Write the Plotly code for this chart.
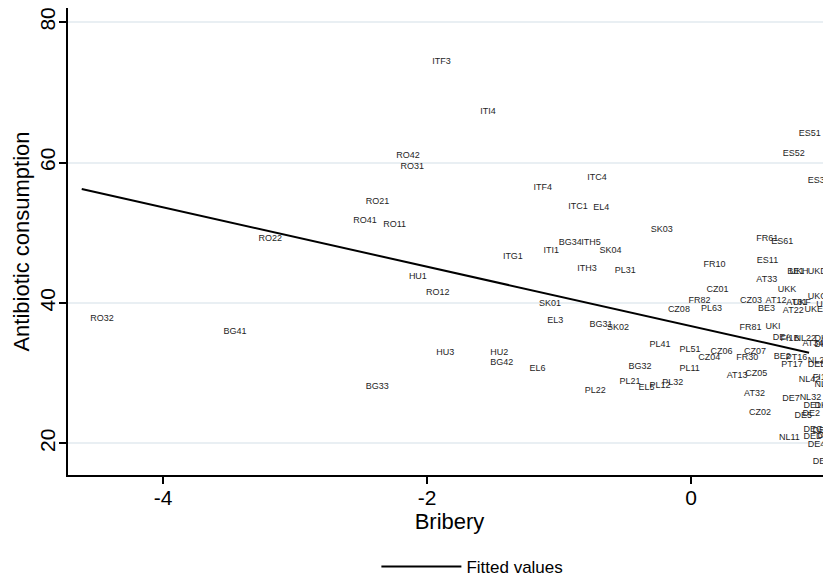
import plotly.graph_objects as go

# ---- data ----
regions = [
    "ITF3", "ITI4", "ITC4", "ITF4", "ITC1", "EL4", "SK03", "BG34", "ITH5", "ITI1",
    "SK04", "ITG1", "ITH3", "PL31", "RO12", "SK01", "EL3", "BG31", "SK02", "PL41",
    "HU3", "HU2", "BG42", "EL6", "BG32", "PL21", "EL5", "PL12", "PL32", "PL22",
    "RO42", "RO31", "RO21", "RO41", "RO11", "RO22", "HU1", "BG41", "BG33", "RO32",
    "CZ01", "FR82", "CZ03", "CZ08", "PL63", "FR81", "PL51", "CZ06", "CZ04", "FR30",
    "CZ07", "PL11", "AT13", "CZ05", "AT32", "CZ02", "FR10", "ES51", "ES52", "ES30",
    "FR61", "ES61", "ES11", "BE1", "UKH", "UKD", "AT33", "UKK", "UKG", "AT12",
    "AT31", "UKF", "UKJ", "BE3", "AT22", "UKE", "UKI", "DEA", "FI1B", "NL22",
    "DK01", "AT34", "DK05", "BE2", "PT16", "PT17", "NL21", "DEE", "NL42", "FI19",
    "NL33", "DE7", "NL32", "DE1", "DK04", "DE5", "DE2", "DEG", "DEF", "DE3",
    "DED", "NL11", "DE4", "DE8",
]
bribery = [
    -2.025, -1.661, -0.851, -1.258, -0.995, -0.805, -0.369, -1.066, -0.896, -1.182,
    -0.758, -1.490, -0.927, -0.642, -2.072, -1.217, -1.154, -0.833, -0.702, -0.379,
    -1.995, -1.586, -1.586, -1.288, -0.538, -0.606, -0.462, -0.379, -0.283, -0.869,
    -2.298, -2.265, -2.528, -2.623, -2.396, -3.341, -2.202, -3.606, -2.528, -4.616,
    0.053, -0.083, 0.307, -0.240, 0.010, 0.303, -0.152, 0.083, -0.010, 0.278,
    0.337, -0.152, 0.205, 0.346, 0.337, 0.375, 0.030, 0.752, 0.631, 0.820,
    0.430, 0.543, 0.434, 0.664, 0.682, 0.820, 0.430, 0.593, 0.820, 0.500,
    0.657, 0.705, 0.884, 0.442, 0.631, 0.795, 0.500, 0.555, 0.614, 0.720,
    0.871, 0.780, 0.871, 0.561, 0.652, 0.619, 0.820, 0.820, 0.752, 0.858,
    0.871, 0.627, 0.758, 0.788, 0.871, 0.720, 0.780, 0.788, 0.856, 0.894,
    0.788, 0.601, 0.820, 0.858,
]
antibiotic = [
    74.31, 67.29, 57.85, 56.37, 53.67, 53.52, 50.39, 48.54, 48.54, 47.50,
    47.40, 46.55, 44.90, 44.56, 41.52, 39.86, 37.44, 36.93, 36.44, 33.98,
    32.94, 32.94, 31.46, 30.66, 30.85, 28.75, 27.90, 28.14, 28.67, 27.53,
    60.93, 59.46, 54.48, 51.77, 51.16, 49.17, 43.66, 35.97, 28.04, 37.80,
    41.81, 40.28, 40.34, 39.00, 39.20, 36.47, 33.27, 33.08, 32.13, 32.13,
    33.12, 30.63, 29.61, 29.95, 27.03, 24.33, 45.37, 64.11, 61.27, 57.47,
    49.17, 48.78, 45.98, 44.41, 44.41, 44.41, 43.33, 41.81, 40.95, 40.28,
    40.00, 40.10, 39.81, 39.20, 38.96, 39.00, 36.58, 35.07, 34.90, 34.97,
    34.97, 34.19, 33.98, 32.31, 32.20, 31.27, 31.70, 31.13, 29.00, 29.38,
    28.29, 26.39, 26.53, 25.34, 25.30, 23.87, 24.16, 21.98, 21.74, 21.02,
    20.88, 20.78, 19.74, 17.37,
]
fitted_values = [56.23, 32.92]  # at min and max bribery

x_ticks = [-4, -2, 0]
x_tick_labels = ["-4", "-2", "0"]
y_ticks = [20, 40, 60, 80]
y_tick_labels = ["20", "40", "60", "80"]

FONT = "Liberation Sans, Arial, Helvetica, sans-serif"

fig = go.Figure()
fig.add_trace(go.Scatter(
    x=bribery, y=antibiotic, mode="markers+text", text=regions,
    textposition="middle right",
    marker=dict(size=12, opacity=0),
    textfont=dict(size=9, color="#1e1e1e", family=FONT),
    showlegend=False, hoverinfo="skip", cliponaxis=True,
))
fig.add_trace(go.Scatter(
    x=[min(bribery), max(bribery)], y=fitted_values, mode="lines",
    line=dict(color="black", width=2), name="Fitted values",
))

# page body adds an 8px offset, so the figure is 8px smaller than the window
fig.update_layout(
    width=823, height=570,
    margin=dict(l=60, r=0, t=0, b=103, autoexpand=False),
    paper_bgcolor="white", plot_bgcolor="white",
    font=dict(family=FONT, color="black"),
    legend=dict(orientation="h", x=0.53, xanchor="center", y=-0.197,
                yanchor="middle", font=dict(size=17), itemwidth=80),
)
fig.update_xaxes(
    range=[-4.72, 1.06], tickvals=x_ticks, ticktext=x_tick_labels,
    showgrid=False, zeroline=False, automargin=False,
    showline=True, linecolor="black", linewidth=2,
    ticks="outside", ticklen=7, tickwidth=2, tickcolor="black",
    tickfont=dict(size=21), ticklabelstandoff=-4, ticklabeloverflow="allow",
    title=dict(text="Bribery", font=dict(size=22), standoff=2),
)
fig.update_yaxes(
    range=[15.5, 82], tickvals=y_ticks, ticktext=y_tick_labels,
    showgrid=True, gridcolor="#e9eff3", gridwidth=1.5,
    zeroline=False, showline=True, linecolor="black", linewidth=2, automargin=False,
    ticks="outside", ticklen=7, tickwidth=2, tickcolor="black", tickangle=-90,
    tickfont=dict(size=21), ticklabelstandoff=-4, ticklabeloverflow="allow",
    title=dict(text="Antibiotic consumption", font=dict(size=22), standoff=0),
)

fig.write_html("out.html")
